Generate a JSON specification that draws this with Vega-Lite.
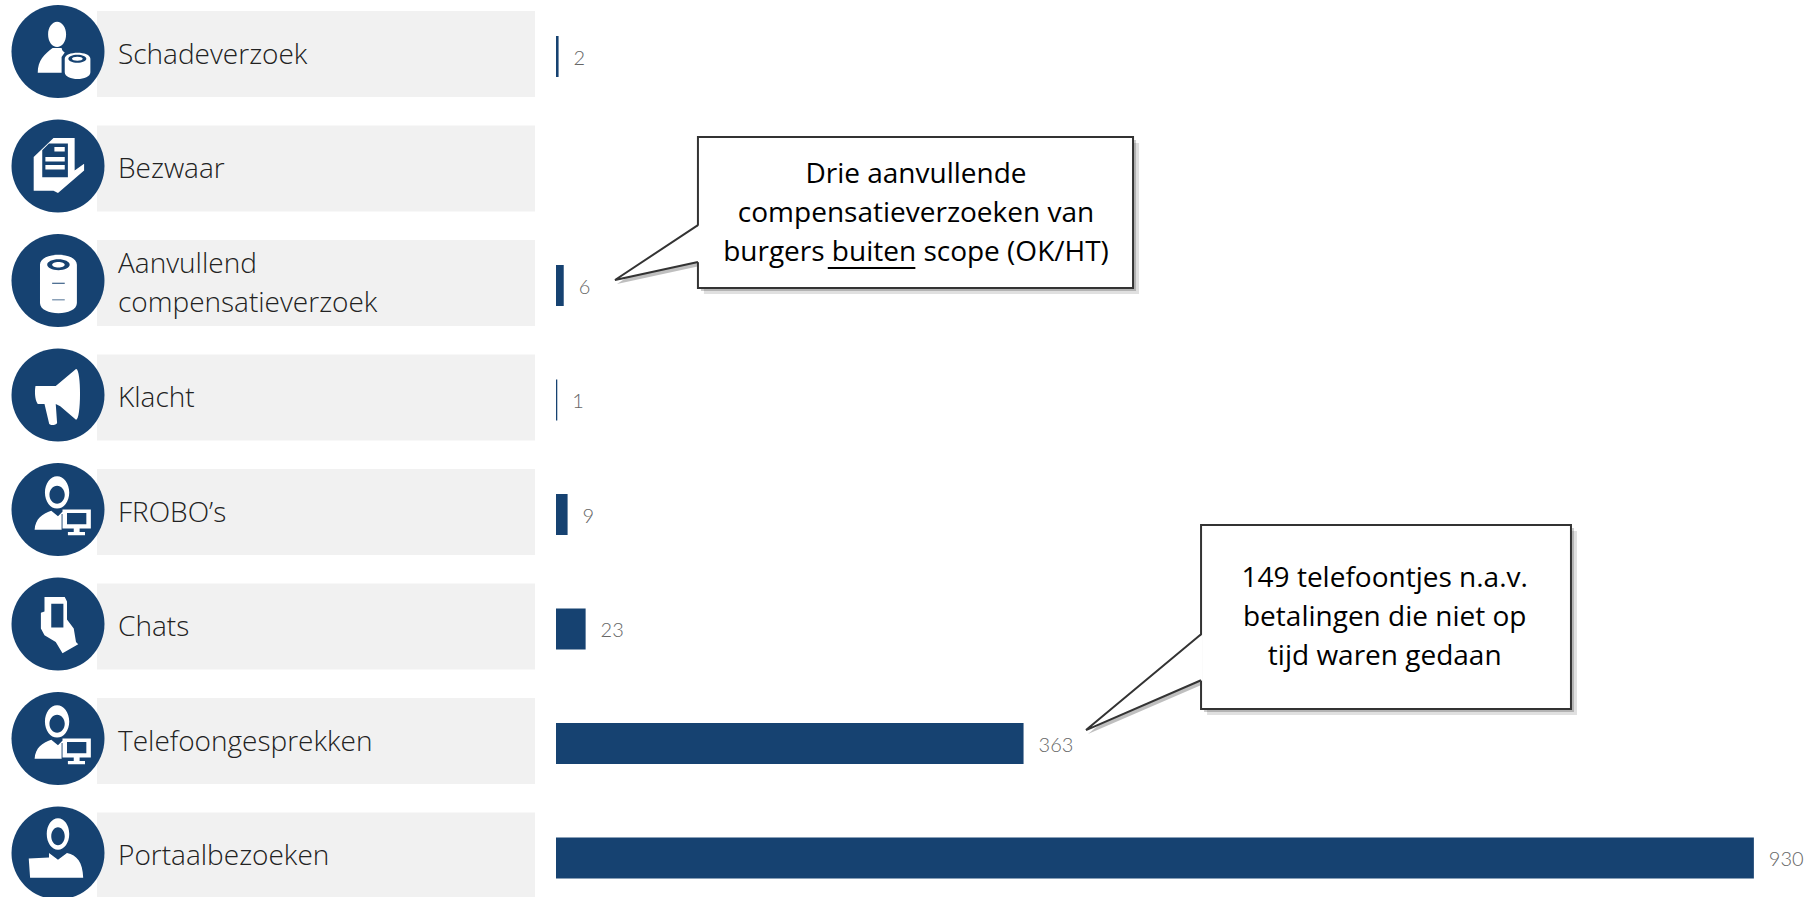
{
"$schema":"https://vega.github.io/schema/vega-lite/v6.json",
"padding":0,
"spacing":21,
"background":"white",
"config":{"view":{"stroke":null},"style":{"cell":{"stroke":null}}},
"datasets":{
"kanalen":[
{"categorie":"Schadeverzoek","label":"Schadeverzoek","aantal":2},
{"categorie":"Bezwaar","label":"Bezwaar","aantal":null},
{"categorie":"Aanvullend compensatieverzoek","label":"Aanvullend\ncompensatieverzoek","aantal":6},
{"categorie":"Klacht","label":"Klacht","aantal":1},
{"categorie":"FROBO's","label":"FROBO’s","aantal":9},
{"categorie":"Chats","label":"Chats","aantal":23},
{"categorie":"Telefoongesprekken","label":"Telefoongesprekken","aantal":363},
{"categorie":"Portaalbezoeken","label":"Portaalbezoeken","aantal":930}
],
"kaders":[
{"kader":"a","van":110.2,"tot":448,"boven":1.703,"onder":3.022},
{"kader":"b","van":500.8,"tot":788,"boven":5.092,"onder":6.699}
],
"staarten":[
{"kader":"a","x":45.8,"y1":2.952,"y2":2.952},
{"kader":"a","x":110.2,"y1":2.472,"y2":2.795},
{"kader":"b","x":411.5,"y1":6.882,"y2":6.882},
{"kader":"b","x":500.8,"y1":6.045,"y2":6.447}
],
"randen":[
{"kader":"a","volgorde":1,"x":110.2,"y":2.472},
{"kader":"a","volgorde":2,"x":45.8,"y":2.952},
{"kader":"a","volgorde":3,"x":110.2,"y":2.795},
{"kader":"b","volgorde":1,"x":500.8,"y":6.045},
{"kader":"b","volgorde":2,"x":411.5,"y":6.882},
{"kader":"b","volgorde":3,"x":500.8,"y":6.447}
],
"teksten":[
{"tekst":"Drie aanvullende\ncompensatieverzoeken van\nburgers buiten scope (OK/HT)","x":279.5,"y":2.035},
{"tekst":"149 telefoontjes n.a.v.\nbetalingen die niet op\ntijd waren gedaan","x":643.4,"y":5.563}
]
},
"hconcat":[
{
"width":535,"height":897,
"data":{"name":"kanalen"},
"encoding":{
"y":{"field":"categorie","type":"nominal","axis":null,"sort":null,
"scale":{"type":"point","padding":0,"range":[56.5,858],"domain":["Schadeverzoek","Bezwaar","Aanvullend compensatieverzoek","Klacht","FROBO's","Chats","Telefoongesprekken","Portaalbezoeken"]}}
},
"layer":[
{"mark":{"type":"bar","size":86,"color":"#f1f1f1","yOffset":-2.5},
"encoding":{"x":{"datum":0.1813,"type":"quantitative","axis":null,"scale":{"domain":[0,1],"nice":false,"zero":false}},"x2":{"datum":1}}},
{"mark":{"type":"point","shape":"circle","filled":true,"opacity":1,"color":"#164271","size":8649,"yOffset":-5,"strokeWidth":0},
"encoding":{"x":{"datum":0.1084,"type":"quantitative"}}},
{"mark":{"type":"point","filled":true,"opacity":1,"color":"#ffffff","size":8100,"yOffset":-5,"strokeWidth":0},
"encoding":{"x":{"datum":0.1084,"type":"quantitative"},
"shape":{"field":"categorie","type":"nominal","legend":null,"scale":{
"domain":["Schadeverzoek","Bezwaar","Aanvullend compensatieverzoek","Klacht","FROBO's","Chats","Telefoongesprekken","Portaalbezoeken"],
"range":[
"M-.22,-.38A.2,.28 0 1 1 .18,-.38A.2,.28 0 1 1 -.22,-.38ZM-.12,-.08L.08,-.08C.09,-.02 .12,0 .15,.02L.08,.12L.08,.47L-.45,.47C-.45,.2 -.3,.05 -.12,-.08ZM.15,.16C.15,-.02 .72,-.02 .72,.16L.72,.46C.72,.66 .15,.66 .15,.46ZM.23,.16A.2,.09 0 1 0 .63,.16A.2,.09 0 1 0 .23,.16ZM.31,.16A.12,.045 0 1 1 .55,.16A.12,.045 0 1 1 .31,.16Z",
"M-.1,-.62L.37,-.62L.37,.1L.58,-.05L.58,.1L0,.6L-.1,.55L-.54,.55L-.54,-.2ZM-.35,-.35L-.35,.25L.22,.25L.22,-.5L-.2,-.5ZM-.28,-.2L.15,-.2L.15,-.1L-.28,-.1ZM-.28,-.02L.15,-.02L.15,.08L-.28,.08ZM-.08,-.42L.15,-.42L.15,-.32L-.08,-.32Z",
"M-.4,-.35C-.4,-.65 .42,-.65 .42,-.35L.42,.5C.42,.8 -.4,.8 -.4,.5ZM-.24,-.35A.25,.12 0 1 0 .26,-.35A.25,.12 0 1 0 -.24,-.35ZM-.13,-.35A.14,.06 0 1 1 .15,-.35A.14,.06 0 1 1 -.13,-.35ZM-.13,.05L-.13,.07L.15,.07L.15,.05ZM-.13,.42L-.13,.44L.15,.44L.15,.42Z",
"M-.5,-.2L-.05,-.2L.4,-.58C.52,-.6 .52,.55 .4,.55L.05,.25L-.05,.2L-.02,.62C-.05,.68 -.2,.68 -.2,.62L-.3,.2L-.45,.2C-.52,.1 -.52,-.1 -.5,-.2Z",
"M-.29,-.38A.27,.36 0 1 1 .25,-.38A.27,.36 0 1 1 -.29,-.38ZM-.19,-.33A.17,.2 0 1 0 .15,-.33A.17,.2 0 1 0 -.19,-.33ZM-.15,.03L0,.15L.12,.03L.15,.1L.08,.1L.08,.45L-.52,.45C-.5,.2 -.35,.1 -.15,.03ZM.1,0L.73,0L.73,.42L.48,.42L.48,.5L.6,.5L.6,.57L.22,.57L.22,.5L.35,.5L.35,.42L.1,.42ZM.2,.08L.2,.33L.63,.33L.63,.08Z",
"M-.3,-.6L.15,-.6L.2,-.5L.2,-.1L.35,.1L.4,.4L.45,.45L.1,.65L-.05,.4L-.3,.25L-.38,.1L-.38,-.25L-.3,-.28ZM-.15,-.45L-.15,.08L.12,.08L.12,-.45Z",
"M-.29,-.38A.27,.36 0 1 1 .25,-.38A.27,.36 0 1 1 -.29,-.38ZM-.19,-.33A.17,.2 0 1 0 .15,-.33A.17,.2 0 1 0 -.19,-.33ZM-.15,.03L0,.15L.12,.03L.15,.1L.08,.1L.08,.45L-.52,.45C-.5,.2 -.35,.1 -.15,.03ZM.1,0L.73,0L.73,.42L.48,.42L.48,.5L.6,.5L.6,.57L.22,.57L.22,.5L.35,.5L.35,.42L.1,.42ZM.2,.08L.2,.33L.63,.33L.63,.08Z",
"M-.25,-.42A.25,.35 0 1 1 .25,-.42A.25,.35 0 1 1 -.25,-.42ZM-.15,-.37A.15,.2 0 1 0 .15,-.37A.15,.2 0 1 0 -.15,-.37ZM-.2,0L0,.15L.2,0C.42,.05 .55,.2 .56,.55L-.62,.55L-.65,.12L-.2,.1Z"
]}}}},
{"transform":[{"filter":"indexof(datum.label,'\\n')<0"}],
"mark":{"type":"text","align":"left","baseline":"middle","font":"Open Sans","fontSize":28,"fontWeight":300,"color":"#222222","yOffset":-1,"limit":0},
"encoding":{"x":{"datum":0.2206,"type":"quantitative"},"text":{"field":"label","type":"nominal"}}},
{"transform":[{"filter":"indexof(datum.label,'\\n')>=0"}],
"mark":{"type":"text","align":"left","baseline":"middle","font":"Open Sans","fontSize":28,"fontWeight":300,"color":"#222222","lineBreak":"\n","lineHeight":39,"yOffset":-21,"limit":0},
"encoding":{"x":{"datum":0.2206,"type":"quantitative"},"text":{"field":"label","type":"nominal"}}}
],
"resolve":{"scale":{"shape":"independent"}}
},
{
"width":1253,"height":897,
"layer":[
{
"data":{"name":"kanalen"},
"encoding":{
"y":{"field":"categorie","type":"nominal","axis":null,"sort":null,
"scale":{"type":"point","padding":0,"range":[56.5,858],"domain":["Schadeverzoek","Bezwaar","Aanvullend compensatieverzoek","Klacht","FROBO's","Chats","Telefoongesprekken","Portaalbezoeken"]}},
"x":{"field":"aantal","type":"quantitative","axis":null,"scale":{"domain":[0,972.8],"nice":false,"zero":false}}
},
"layer":[
{"mark":{"type":"bar","size":41,"color":"#164271"}},
{"mark":{"type":"text","align":"left","baseline":"middle","dx":15,"yOffset":2,"font":"Lato","fontSize":20,"fontWeight":300,"color":"#666666"},
"encoding":{"text":{"field":"aantal","type":"quantitative"}}}
]
},
{
"layer":[
{"data":{"name":"kaders"},"mark":{"type":"rect","color":"#000000","opacity":0.12,"xOffset":6,"x2Offset":6,"yOffset":6,"y2Offset":6},
"encoding":{"x":{"field":"van","type":"quantitative","axis":null,"scale":{"domain":[0,972.8],"nice":false,"zero":false}},"x2":{"field":"tot"},
"y":{"field":"boven","type":"quantitative","axis":null,"scale":{"domain":[0.5066,8.34],"range":[0,897],"nice":false,"zero":false}},"y2":{"field":"onder"}}},
{"data":{"name":"kaders"},"mark":{"type":"rect","color":"#000000","opacity":0.2,"xOffset":3,"x2Offset":3,"yOffset":3,"y2Offset":3},
"encoding":{"x":{"field":"van","type":"quantitative"},"x2":{"field":"tot"},"y":{"field":"boven","type":"quantitative"},"y2":{"field":"onder"}}},
{"data":{"name":"staarten"},"mark":{"type":"area","color":"#000000","opacity":0.25,"yOffset":4,"y2Offset":4,"xOffset":2},
"encoding":{"x":{"field":"x","type":"quantitative"},"y":{"field":"y1","type":"quantitative"},"y2":{"field":"y2"},"detail":{"field":"kader"}}},
{"data":{"name":"kaders"},"mark":{"type":"rect","fill":"#ffffff","stroke":"#333333","strokeWidth":2},
"encoding":{"x":{"field":"van","type":"quantitative"},"x2":{"field":"tot"},"y":{"field":"boven","type":"quantitative"},"y2":{"field":"onder"}}},
{"data":{"name":"staarten"},"mark":{"type":"area","color":"#ffffff","opacity":1,"xOffset":1.5},
"encoding":{"x":{"field":"x","type":"quantitative"},"y":{"field":"y1","type":"quantitative"},"y2":{"field":"y2"},"detail":{"field":"kader"}}},
{"data":{"name":"randen"},"mark":{"type":"line","color":"#333333","strokeWidth":2,"interpolate":"linear"},
"encoding":{"x":{"field":"x","type":"quantitative"},"y":{"field":"y","type":"quantitative"},"order":{"field":"volgorde"},"detail":{"field":"kader"}}},
{"data":{"name":"teksten"},"mark":{"type":"text","align":"center","baseline":"middle","font":"Open Sans","fontSize":28,"color":"#000000","lineBreak":"\n","lineHeight":39,"limit":0},
"encoding":{"x":{"field":"x","type":"quantitative"},"y":{"field":"y","type":"quantitative"},"text":{"field":"tekst","type":"nominal"}}},
{"data":{"values":[{"van":211,"tot":279,"y":2.848}]},"mark":{"type":"rule","color":"#000000","strokeWidth":2},
"encoding":{"x":{"field":"van","type":"quantitative"},"x2":{"field":"tot"},"y":{"field":"y","type":"quantitative"}}}
]
}
],
"resolve":{"scale":{"y":"independent"}}
}
]
}
